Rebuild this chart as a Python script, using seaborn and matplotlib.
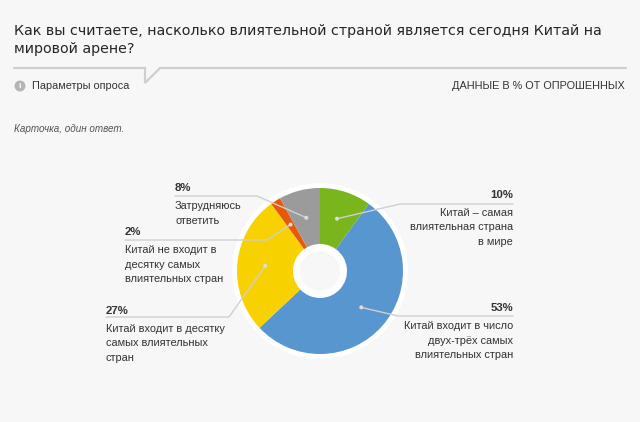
import numpy as np
import matplotlib
matplotlib.use('Agg')
import matplotlib.pyplot as plt
from matplotlib.patches import Circle
import seaborn as sns

# данные опроса (по часовой стрелке от 12 часов)
shares = [10, 53, 27, 2, 8]
pct_labels = ['10%', '53%', '27%', '2%', '8%']
answers = [
    ['Китай – самая', 'влиятельная страна', 'в мире'],
    ['Китай входит в число', 'двух-трёх самых', 'влиятельных стран'],
    ['Китай входит в десятку', 'самых влиятельных', 'стран'],
    ['Китай не входит в', 'десятку самых', 'влиятельных стран'],
    ['Затрудняюсь', 'ответить'],
]
colors = ['#7ab51d', '#5896d0', '#f7d200', '#e8580c', '#9b9b9b']

title = 'Как вы считаете, насколько влиятельной страной является сегодня Китай на\nмировой арене?'
BG = '#f7f7f7'
TXT = '#333333'
LINE = '#cfcfcf'

sns.set_theme(style='white')
plt.rcParams['font.family'] = ['Liberation Sans', 'DejaVu Sans']

W, H = 640, 422
fig = plt.figure(figsize=(W / 100, H / 100), dpi=100, facecolor=BG)
ax = fig.add_axes([0, 0, 1, 1])
ax.set_facecolor(BG)


def Y(y):
    # пиксельная координата сверху -> координата оси
    return H - y


# --- шапка ---
ax.text(14, Y(24), title, ha='left', va='top', fontsize=10.3, color='#262626',
        family=['DejaVu Sans'], linespacing=1.35)
ax.plot([14, 145, 145, 160, 626], [Y(68), Y(68), Y(83), Y(68), Y(68)],
        color=LINE, lw=1.6, solid_joinstyle='miter')
ax.add_patch(Circle((20, Y(86)), 5.5, color='#b5b5b5', lw=0))
ax.text(20, Y(86), 'i', ha='center', va='center', fontsize=6, color='white',
        fontweight='bold')
ax.text(32, Y(86), 'Параметры опроса', ha='left', va='center', fontsize=7.8,
        color=TXT)
ax.text(625, Y(86), 'ДАННЫЕ В % ОТ ОПРОШЕННЫХ', ha='right', va='center',
        fontsize=7.8, color=TXT)
ax.text(14, Y(129), 'Карточка, один ответ.', ha='left', va='center',
        fontsize=7.1, color='#555555', style='italic')

# --- кольцевая диаграмма ---
cx, cy = 320, Y(271)
r_out, r_in, r_hole = 83, 27, 20
ax.add_patch(Circle((cx, cy), r_out + 5, color='white', lw=0, zorder=1))
wedges, _ = ax.pie(shares, colors=colors, startangle=90, counterclock=False,
                   radius=r_out, center=(cx, cy), frame=True,
                   wedgeprops=dict(width=r_out - r_in, linewidth=0))
for w in wedges:
    w.set_zorder(2)
ax.add_patch(Circle((cx, cy), r_hole, color=BG, lw=0, zorder=3))
ax.set_xlim(0, W)
ax.set_ylim(0, H)
ax.set_aspect('equal')
ax.axis('off')

# --- подписи с выносками ---
# (сторона, x текста, y процента, x излома, y линии)
layout = [
    ('right', 513, 195, 400, 204),
    ('right', 513, 308, 398, 316),
    ('left', 106, 311, 229, 317),
    ('left', 125, 232, 267, 240),
    ('left', 175, 188, 257, 196),
]
r_dot = (r_out + r_in) / 2
for w, pct, lines, (side, tx, ty, kx, ly) in zip(wedges, pct_labels, answers, layout):
    mid = np.deg2rad((w.theta1 + w.theta2) / 2)
    dx, dy = cx + r_dot * np.cos(mid), cy + r_dot * np.sin(mid)
    ha = 'right' if side == 'right' else 'left'
    ax.plot([dx, kx, tx], [dy, Y(ly), Y(ly)], color=LINE, lw=1, zorder=4)
    ax.add_patch(Circle((dx, dy), 2, color='#dddddd', lw=0, zorder=5))
    ax.text(tx, Y(ty), pct, ha=ha, va='center', fontsize=8.2,
            fontweight='bold', color=TXT)
    for i, line in enumerate(lines):
        ax.text(tx, Y(ty + 18 + 14.5 * i), line, ha=ha, va='center',
                fontsize=7.9, color=TXT)

fig.savefig('out.png', dpi=100, facecolor=BG)
